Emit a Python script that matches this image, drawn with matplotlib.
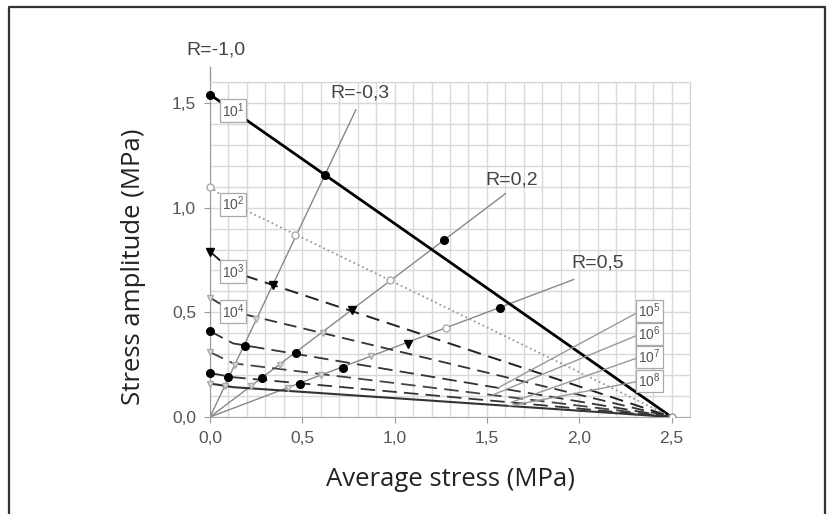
import matplotlib
matplotlib.use("Agg")
import matplotlib.pyplot as plt
from matplotlib.ticker import MultipleLocator, FuncFormatter
from matplotlib.lines import Line2D

# constant life lines 10^1 .. 10^8
life_exp = [1, 2, 3, 4, 5, 6, 7, 8]
sa_at_zero = [1.54, 1.10, 0.79, 0.57, 0.41, 0.31, 0.21, 0.16]   # marker on R=-1
sa_intercept = [1.54, 1.07, 0.73, 0.53, 0.37, 0.27, 0.20, 0.15]  # fitted line
sm_ultimate = 2.5

# points on the R lines (average stress, amplitude)
r_values = [-0.3, 0.2, 0.5]
r_labels = ["R=-0,3", "R=0,2", "R=0,5"]
r_line_end = [0.79, 1.60, 1.97]
pts_sm = {
    -0.3: [0.623, 0.46, 0.34, 0.25, 0.19, 0.135, 0.10, 0.08],
    0.2: [1.27, 0.975, 0.77, 0.61, 0.466, 0.38, 0.28, 0.22],
    0.5: [1.57, 1.28, 1.07, 0.87, 0.72, 0.60, 0.49, 0.42],
}
pts_sa = {
    -0.3: [1.156, 0.87, 0.63, 0.47, 0.34, 0.25, 0.19, 0.15],
    0.2: [0.845, 0.654, 0.51, 0.40, 0.306, 0.25, 0.186, 0.15],
    0.5: [0.52, 0.425, 0.35, 0.29, 0.235, 0.20, 0.16, 0.14],
}

# label boxes
left_label_x = 0.125
right_label_x = 2.38
right_label_y = [0.506, 0.396, 0.287, 0.172]
right_leader_end = [1.56, 1.53, 1.63, 1.62]

plt.rcParams['font.family'] = ['Liberation Sans', 'DejaVu Sans']

fig = plt.figure(figsize=(8.29, 5.14), dpi=100)
ax = fig.add_axes([210 / 829, 97 / 514, 480 / 829, 335 / 514])

ax.set_xlim(0, 2.6)
ax.set_ylim(0, 1.6)
ax.xaxis.set_major_locator(MultipleLocator(0.5))
ax.yaxis.set_major_locator(MultipleLocator(0.5))
ax.xaxis.set_minor_locator(MultipleLocator(0.1))
ax.yaxis.set_minor_locator(MultipleLocator(0.1))
ax.grid(which='both', color='#d9d9d9', lw=1.0)
ax.set_axisbelow(True)
comma = FuncFormatter(lambda v, p: f"{v:.1f}".replace('.', ','))
ax.xaxis.set_major_formatter(comma)
ax.yaxis.set_major_formatter(comma)
ax.tick_params(which='major', length=4, color='#999999', labelsize=12.5,
               labelcolor='#555555', pad=6)
ax.tick_params(which='minor', length=0)
for s in ax.spines.values():
    s.set_color('#d4d4d4')
ax.spines['left'].set_color('#999999')
ax.spines['bottom'].set_color('#aaaaaa')

# y axis extension up to the R=-1,0 label
ax.plot([0, 0], [1.6, 1.67], color='#999999', lw=1, clip_on=False)

styles = [
    dict(ls='-', color='black', lw=2.0),
    dict(ls=':', color='#999999', lw=1.3),
    dict(ls=(0, (7, 4)), color='#222222', lw=1.4),
    dict(ls=(0, (7, 4)), color='#333333', lw=1.3),
    dict(ls=(0, (8, 4)), color='#333333', lw=1.3),
    dict(ls=(0, (8, 4)), color='#444444', lw=1.3),
    dict(ls=(0, (8, 4)), color='#333333', lw=1.3),
    dict(ls='-', color='#333333', lw=1.5),
]
mk_shape = ['o', 'o', 'v', 'v', 'o', 'v', 'o', 'v']
mk_size = [5.5, 5, 5.5, 4.5, 5.5, 4.5, 5.5, 4.5]
mk_face = ['black', 'white', 'black', '#dddddd', 'black', '#dddddd', 'black', '#dddddd']
mk_edge = ['black', '#aaaaaa', 'black', '#aaaaaa', 'black', '#aaaaaa', 'black', '#aaaaaa']

# R lines
for r, end in zip(r_values, r_line_end):
    k = (1 - r) / (1 + r)
    ax.plot([0, end], [0, end * k], color='#888888', lw=1.0, zorder=2)

# constant life lines
for i, e in enumerate(life_exp):
    s0 = sa_at_zero[i]
    b = sa_intercept[i]
    xk = left_label_x
    ax.plot([0, xk, sm_ultimate], [s0, b * (1 - xk / sm_ultimate), 0],
            zorder=3, **styles[i])
    ax.plot(0, s0, marker=mk_shape[i], ms=mk_size[i], mfc=mk_face[i], mec=mk_edge[i],
            clip_on=False, zorder=5)
    for r in r_values:
        ax.plot(pts_sm[r][i], pts_sa[r][i], marker=mk_shape[i], ms=mk_size[i],
                mfc=mk_face[i], mec=mk_edge[i], zorder=5, ls='none')

ax.plot(sm_ultimate, 0, marker='o', ms=5, mfc='white', mec='#999999', zorder=5)

box = dict(boxstyle='square,pad=0.15', fc='white', ec='#aaaaaa', lw=0.9)
# left labels 10^1..10^4
for i in range(4):
    b = sa_intercept[i]
    yk = b * (1 - left_label_x / sm_ultimate)
    ax.text(left_label_x, yk, r'$\mathregular{10^{%d}}$' % life_exp[i],
            fontsize=10, color='#555555', ha='center', va='center',
            bbox=box, zorder=6)

# right labels 10^5..10^8 with leader lines
for j in range(4):
    i = 4 + j
    b = sa_intercept[i]
    xe = right_leader_end[j]
    ye = b * (1 - xe / sm_ultimate)
    ax.plot([right_label_x - 0.05, xe], [right_label_y[j], ye],
            color='#999999', lw=1.0, zorder=4)
    ax.text(right_label_x, right_label_y[j], r'$\mathregular{10^{%d}}$' % life_exp[i],
            fontsize=10, color='#555555', ha='center', va='center',
            bbox=box, zorder=6)

# R labels
ax.text(0.03, 1.753, "R=-1,0", fontsize=14, color='#444444', ha='center',
        va='center', clip_on=False)
r_text_pos = [(0.81, 1.547), (1.635, 1.13), (2.10, 0.735)]
for lab, (tx, ty) in zip(r_labels, r_text_pos):
    ax.text(tx, ty, lab, fontsize=14, color='#444444', ha='center', va='center',
            zorder=6)

fig.text(451 / 829, 1 - 480 / 514, "Average stress (MPa)", family='Open Sans',
         fontsize=18.5, color='#222222', ha='center', va='center')
fig.text(134 / 829, 1 - 267 / 514, "Stress amplitude (MPa)", family='Open Sans',
         fontsize=18.5, color='#222222', ha='center', va='center', rotation=90)

# outer frame (left, top, right)
fig.add_artist(Line2D([9.5 / 829, 9.5 / 829, 825 / 829, 825 / 829],
                      [0, 1 - 6.5 / 514, 1 - 6.5 / 514, 0],
                      color='#333333', lw=1.6))

fig.savefig("out.png", dpi=100)
